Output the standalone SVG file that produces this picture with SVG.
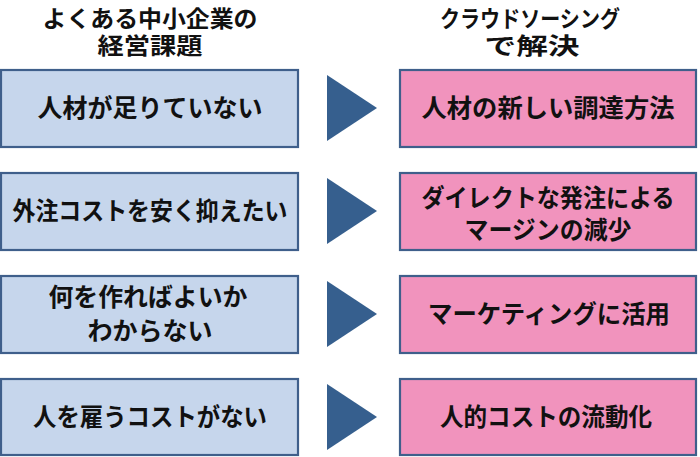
<svg xmlns="http://www.w3.org/2000/svg" width="700" height="457" viewBox="0 0 700 457">
<style>
text{font-family:"Noto Sans CJK JP","Noto Sans",sans-serif;font-weight:bold;fill:#111;text-anchor:middle}
.h{font-size:23px}
.t{font-size:25px}
.l{fill:#c6d6ec;stroke:#3f5f8b;stroke-width:2.2}
.r{fill:#f193bd;stroke:#3f5f8b;stroke-width:2.2}
.a{fill:#365f8e}
</style>
<rect width="700" height="457" fill="#ffffff"/>
<g id="header-left">
<text class="h" x="150" y="27" textLength="215" lengthAdjust="spacingAndGlyphs">よくある中小企業の</text>
<text class="h" x="150" y="54" textLength="105" lengthAdjust="spacingAndGlyphs">経営課題</text>
</g>
<g id="header-right">
<text class="h" x="530" y="27" textLength="180" lengthAdjust="spacingAndGlyphs">クラウドソーシング</text>
<text class="h" x="532" y="54" textLength="95" lengthAdjust="spacingAndGlyphs">で解決</text>
</g>
<g id="p1"><rect class="l" x="1" y="70" width="297" height="77"/><text class="t" x="150" y="117" textLength="225" lengthAdjust="spacingAndGlyphs">人材が足りていない</text></g>
<g id="p2"><rect class="l" x="1" y="173" width="297" height="77"/><text class="t" x="150" y="220" textLength="275" lengthAdjust="spacingAndGlyphs">外注コストを安く抑えたい</text></g>
<g id="p3"><rect class="l" x="1" y="276" width="297" height="77"/><text class="t" x="148" y="306" textLength="199" lengthAdjust="spacingAndGlyphs">何を作ればよいか</text><text class="t" x="150" y="340" textLength="125" lengthAdjust="spacingAndGlyphs">わからない</text></g>
<g id="p4"><rect class="l" x="1" y="379" width="297" height="76"/><text class="t" x="150" y="426" textLength="234" lengthAdjust="spacingAndGlyphs">人を雇うコストがない</text></g>
<g id="s1"><rect class="r" x="400" y="70" width="296" height="77"/><text class="t" x="548" y="117" textLength="253" lengthAdjust="spacingAndGlyphs">人材の新しい調達方法</text></g>
<g id="s2"><rect class="r" x="400" y="173" width="296" height="77"/><text class="t" x="548" y="207" textLength="253" lengthAdjust="spacingAndGlyphs">ダイレクトな発注による</text><text class="t" x="548" y="239" textLength="167" lengthAdjust="spacingAndGlyphs">マージンの減少</text></g>
<g id="s3"><rect class="r" x="400" y="276" width="296" height="77"/><text class="t" x="549" y="323" textLength="242" lengthAdjust="spacingAndGlyphs">マーケティングに活用</text></g>
<g id="s4"><rect class="r" x="400" y="379" width="296" height="76"/><text class="t" x="546" y="426" textLength="212" lengthAdjust="spacingAndGlyphs">人的コストの流動化</text></g>
<g id="connectors">
<polygon class="a" points="327,75 327,141 377,108"/>
<polygon class="a" points="327,178 327,244 377,211"/>
<polygon class="a" points="327,281 327,347 377,314"/>
<polygon class="a" points="327,384 327,450 377,417"/>
</g>
</svg>
